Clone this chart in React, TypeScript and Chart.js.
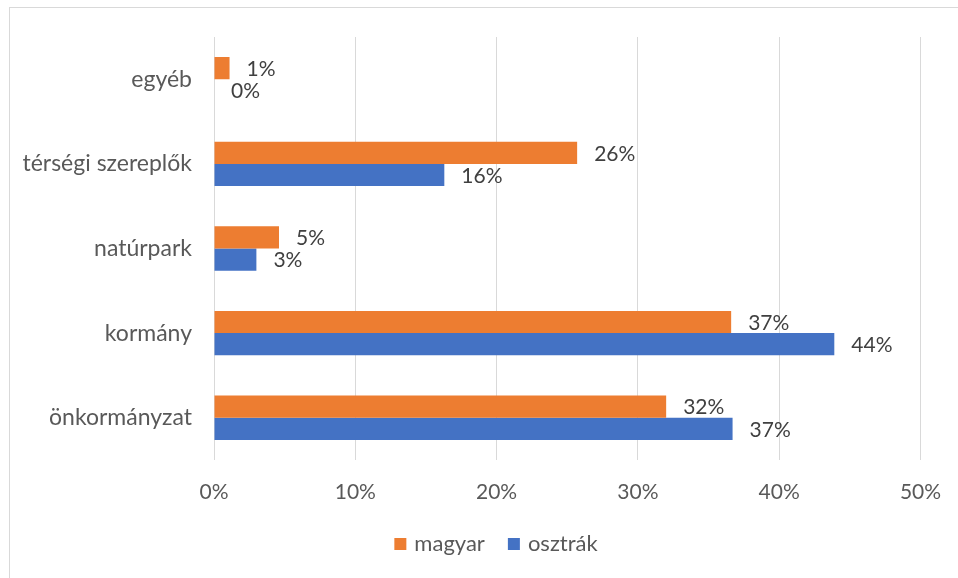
import React, { useEffect, useRef } from "react";
import { Chart, registerables } from "chart.js";

Chart.register(...registerables);

const categories = ["egyéb", "térségi szereplők", "natúrpark", "kormány", "önkormányzat"];
const seriesNames = ["magyar", "osztrák"];
const seriesColors = ["#ED7D31", "#4472C4"];
const magyarValues = [1.1, 25.7, 4.6, 36.6, 32.0];
const osztrakValues = [0, 16.3, 3.0, 43.9, 36.7];
const xTicks = [0, 10, 20, 30, 40, 50];

const FONT = "Lato, 'Liberation Sans', sans-serif";

const dataLabelPlugin = {
  id: "dataLabels",
  afterDatasetsDraw(chart: any) {
    const ctx = chart.ctx;
    ctx.save();
    ctx.font = `21px ${FONT}`;
    ctx.fillStyle = "#404040";
    ctx.textAlign = "left";
    ctx.textBaseline = "middle";
    chart.data.datasets.forEach((ds: any, di: number) => {
      const meta = chart.getDatasetMeta(di);
      meta.data.forEach((el: any, i: number) => {
        const v = ds.data[i];
        ctx.fillText(Math.round(v) + "%", el.x + 17, el.y + 1);
      });
    });
    ctx.restore();
  },
};

const legendPlugin = {
  id: "customLegend",
  afterDraw(chart: any) {
    const ctx = chart.ctx;
    ctx.save();
    ctx.font = `22px ${FONT}`;
    ctx.textBaseline = "middle";
    ctx.textAlign = "left";
    const box = 12;
    const gapText = 8;
    const gapItem = 23;
    const widths = chart.data.datasets.map((d: any) => ctx.measureText(d.label).width);
    let total = 0;
    widths.forEach((w: number, i: number) => {
      total += box + gapText + w + (i > 0 ? gapItem : 0);
    });
    const cx = 486;
    const cy = 536;
    let x = cx - total / 2;
    chart.data.datasets.forEach((d: any, i: number) => {
      ctx.fillStyle = d.backgroundColor;
      ctx.fillRect(x, cy - box / 2, box, box);
      x += box + gapText;
      ctx.fillStyle = "#595959";
      ctx.fillText(d.label, x, cy);
      x += widths[i] + gapItem;
    });
    ctx.restore();
  },
};

export default function App() {
  const ref = useRef<HTMLCanvasElement | null>(null);
  useEffect(() => {
    if (!ref.current) return;
    const chart = new Chart(ref.current, {
      type: "bar",
      data: {
        labels: categories,
        datasets: [
          { label: seriesNames[0], data: magyarValues, backgroundColor: seriesColors[0], borderWidth: 0 },
          { label: seriesNames[1], data: osztrakValues, backgroundColor: seriesColors[1], borderWidth: 0 },
        ],
      },
      options: {
        indexAxis: "y",
        animation: false,
        responsive: false,
        maintainAspectRatio: false,
        layout: { padding: { top: 29, right: 37.5, left: 0, bottom: 65 } },
        datasets: { bar: { categoryPercentage: 0.525, barPercentage: 1 } },
        scales: {
          x: {
            min: 0,
            max: 50,
            afterBuildTicks: (s: any) => {
              s.ticks = xTicks.map((v) => ({ value: v }));
            },
            afterFit: (s: any) => {
              s.height = 53;
              s.paddingLeft = 0;
              s.paddingRight = 0;
              s.paddingTop = 0;
              s.paddingBottom = 0;
            },
            grid: { color: "#d9d9d9", lineWidth: 1, drawTicks: false },
            border: { display: false },
            ticks: {
              padding: 19.5,
              color: "#595959",
              font: { family: FONT, size: 21 },
              callback: (v: any) => v + "%",
            },
          },
          y: {
            grid: { display: false, drawTicks: false },
            border: { display: false },
            afterFit: (s: any) => {
              s.width = 204;
              s.paddingTop = 0;
              s.paddingBottom = 0;
              s.paddingLeft = 0;
              s.paddingRight = 0;
            },
            ticks: {
              padding: 22,
              color: "#595959",
              font: { family: FONT, size: 23 },
            },
          },
        },
        plugins: {
          legend: { display: false },
          tooltip: { enabled: false },
        },
      },
      plugins: [dataLabelPlugin, legendPlugin],
    });
    return () => chart.destroy();
  }, []);
  return (
    <div
      style={{
        position: "absolute",
        left: 9,
        top: 7,
        width: 949,
        height: 571,
        boxSizing: "border-box",
        borderLeft: "1px solid #d9d9d9",
        borderTop: "1px solid #d9d9d9",
        background: "#fff",
        overflow: "hidden",
      }}
    >
      <canvas ref={ref} width={948} height={570} style={{ display: "block" }} />
    </div>
  );
}
